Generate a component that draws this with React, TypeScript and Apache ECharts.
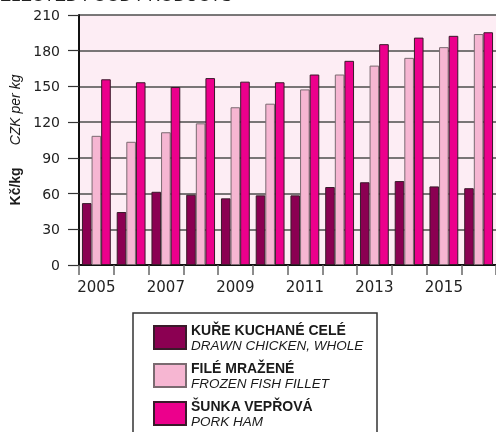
import React, { useEffect, useRef } from "react";
import * as echarts from "echarts";

const years = ["2005", "2006", "2007", "2008", "2009", "2010", "2011", "2012", "2013", "2014", "2015", "2016"];
const chicken = [52, 44.5, 61.5, 59, 56, 58.5, 58.5, 65.5, 69.5, 70.5, 66, 64.5];
const fish = [108.5, 103.5, 111.5, 119, 132.5, 135.5, 147.5, 160, 167.5, 174, 183, 194];
const ham = [156, 153.5, 149.5, 157, 154, 153.5, 160, 171.5, 185.5, 191, 192.5, 195.5];
const seriesNames = ["KUŘE KUCHANÉ CELÉ", "FILÉ MRAŽENÉ", "ŠUNKA VEPŘOVÁ"];
const seriesNamesEn = ["DRAWN CHICKEN, WHOLE", "FROZEN FISH FILLET", "PORK HAM"];
const yTicks = { min: 0, max: 210, interval: 30 };

export default function App() {
  const ref = useRef<HTMLDivElement>(null);
  useEffect(() => {
    if (!ref.current) return;
    const chart = echarts.init(ref.current, null, { renderer: "svg" });
    const font = "Liberation Sans, Arial, sans-serif";
    const mk = (i: number, data: number[], color: string, border: string) => ({
      name: seriesNames[i],
      type: "bar",
      data,
      barGap: "0%",
      barCategoryGap: "17%",
      itemStyle: { color, borderColor: border, borderWidth: 1 },
    });
    chart.setOption({
      animation: false,
      grid: {
        left: 79,
        top: 15,
        width: 424,
        height: 250,
        show: true,
        backgroundColor: "#fdedf4",
        borderWidth: 0,
      },
      graphic: [
        {
          type: "text",
          x: 232,
          y: -5,
          z: 10,
          style: {
            text: "SELECTED FOOD PRODUCTS",
            align: "right",
            verticalAlign: "middle",
            font: "17px Liberation Sans, Arial, sans-serif",
            fill: "#222",
          },
        },
        {
          type: "rect",
          z: 0,
          shape: { x: 133, y: 313, width: 244, height: 140 },
          style: { fill: "#fff", stroke: "#333", lineWidth: 1.5 },
        },
      ],
      legend: {
        orient: "vertical",
        left: 148,
        top: 318,
        height: 200,
        itemWidth: 32,
        itemHeight: 23,
        itemGap: 9,
        icon: "rect",
        z: 5,
        data: seriesNames,
        formatter: (name: string) => {
          const i = seriesNames.indexOf(name);
          return `{b|${name}}\n{i|${seriesNamesEn[i]}}`;
        },
        textStyle: {
          rich: {
            b: { fontFamily: font, fontSize: 14, fontWeight: "bold", color: "#1a1a1a", lineHeight: 15 },
            i: { fontFamily: font, fontSize: 13.5, fontStyle: "italic", color: "#1a1a1a", lineHeight: 15 },
          },
        },
      },
      xAxis: {
        type: "category",
        data: years,
        boundaryGap: true,
        axisLine: { show: true, lineStyle: { color: "#111", width: 2 } },
        axisTick: { show: true, interval: 0, length: 10, lineStyle: { color: "#666", width: 1.5 } },
        axisLabel: {
          interval: 1,
          margin: 14,
          fontFamily: "DejaVu Sans, sans-serif",
          fontSize: 15,
          color: "#222",
        },
      },
      yAxis: {
        type: "value",
        min: yTicks.min,
        max: yTicks.max,
        interval: yTicks.interval,
        name: "{b|Kč/kg}{i|CZK per kg}",
        nameLocation: "middle",
        nameRotate: 90,
        nameGap: 50,
        nameTextStyle: {
          rich: {
            b: { fontFamily: font, fontSize: 14, fontWeight: "bold", color: "#1a1a1a" },
            i: { fontFamily: font, fontSize: 14, fontStyle: "italic", color: "#1a1a1a", padding: [0, 0, 0, 22] },
          },
        },
        axisLine: { show: true, lineStyle: { color: "#111", width: 2 } },
        axisTick: { show: true, length: 11, lineStyle: { color: "#333", width: 1.2 } },
        axisLabel: {
          margin: 19,
          fontFamily: "DejaVu Sans, sans-serif",
          fontSize: 14,
          color: "#222",
        },
        splitLine: { show: true, lineStyle: { color: "#4d4d4d", width: 1.5 } },
      },
      series: [
        mk(0, chicken, "#8b0052", "#3a1a2a"),
        mk(1, fish, "#f6b6d2", "#7a6a70"),
        mk(2, ham, "#ec008c", "#3a1a2a"),
      ],
    });
    return () => chart.dispose();
  }, []);
  return <div ref={ref} style={{ position: "fixed", left: 0, top: 0, width: 496, height: 432 }} />;
}
